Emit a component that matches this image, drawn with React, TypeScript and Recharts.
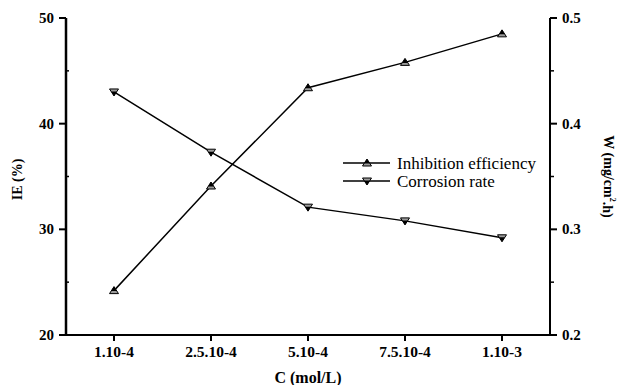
import React from "react"
import { Label, Legend, Line, LineChart, XAxis, YAxis } from "recharts"

const concentrations = ["1.10-4", "2.5.10-4", "5.10-4", "7.5.10-4", "1.10-3"]
const inhibitionEfficiency = [24.2, 34.1, 43.4, 45.8, 48.5]
const corrosionRate = [0.43, 0.373, 0.321, 0.308, 0.292]
const ieTicks = [20, 25, 30, 35, 40, 45, 50]
const wTicks = [0.2, 0.25, 0.3, 0.35, 0.4, 0.45, 0.5]

const data = concentrations.map((c, i) => ({
  c,
  ie: inhibitionEfficiency[i],
  w: corrosionRate[i],
}))

const FONT = "Liberation Serif, Times New Roman, Times, DejaVu Serif, serif"

const UpTri = ({ cx, cy }: { cx: number; cy: number }) => (
  <g>
    <polygon points={`${cx},${cy - 4} ${cx - 4.5},${cy + 3} ${cx + 4.5},${cy + 3}`} fill="#9a9a9a" stroke="#000" strokeWidth={1} />
    <polygon points={`${cx},${cy - 4} ${cx - 2.8},${cy + 0.5} ${cx + 2.8},${cy + 0.5}`} fill="#000" />
  </g>
)

const DownTri = ({ cx, cy }: { cx: number; cy: number }) => (
  <g>
    <polygon points={`${cx},${cy + 4} ${cx - 4.5},${cy - 3} ${cx + 4.5},${cy - 3}`} fill="#9a9a9a" stroke="#000" strokeWidth={1} />
    <polygon points={`${cx},${cy + 4} ${cx - 2.8},${cy - 0.5} ${cx + 2.8},${cy - 0.5}`} fill="#000" />
  </g>
)

const LeftTick = (props: any) => {
  const { x, y, payload, index } = props
  const axisX = x + 5 + 7
  const major = index % 2 === 0
  return (
    <g>
      {major ? (
        <line x1={axisX - 7} x2={axisX} y1={y} y2={y} stroke="#000" strokeWidth={2} />
      ) : (
        <line x1={axisX} x2={axisX + 3} y1={y} y2={y} stroke="#000" strokeWidth={1.5} />
      )}
      {major && (
        <text x={x} y={y} textAnchor="end" dominantBaseline="central" fontSize={15} fontWeight="bold" fontFamily={FONT} fill="#000">
          {payload.value}
        </text>
      )}
    </g>
  )
}

const RightTick = (props: any) => {
  const { x, y, payload, index } = props
  const axisX = x - 5 - 7
  const major = index % 2 === 0
  return (
    <g>
      <line x1={axisX} x2={axisX + (major ? 7 : 4)} y1={y} y2={y} stroke="#000" strokeWidth={major ? 2 : 1.5} />
      {major && (
        <text x={x} y={y} textAnchor="start" dominantBaseline="central" fontSize={15} fontWeight="bold" fontFamily={FONT} fill="#000">
          {payload.value.toFixed(1)}
        </text>
      )}
    </g>
  )
}

const LegendBox = () => (
  <div style={{ fontFamily: FONT, fontSize: 17, color: "#000", lineHeight: "18px" }}>
    {[
      { name: "Inhibition efficiency", up: true },
      { name: "Corrosion rate", up: false },
    ].map((r) => (
      <div key={r.name} style={{ display: "flex", alignItems: "center", height: 18 }}>
        <svg width={48} height={18}>
          <line x1={0} x2={47} y1={9} y2={9} stroke="#000" strokeWidth={1.5} />
          {r.up ? <UpTri cx={24} cy={9} /> : <DownTri cx={24} cy={9} />}
        </svg>
        <span style={{ marginLeft: 6, lineHeight: "17px", height: 17, overflow: "visible" }}>{r.name}</span>
      </div>
    ))}
  </div>
)

export default function App() {
  return (
    <div style={{ position: "absolute", left: 0, top: 0, width: 618, height: 385, background: "#fff", fontFamily: FONT }}>
      <LineChart width={618} height={385} data={data} margin={{ top: 18, right: 0, bottom: 0, left: 0 }} style={{ fontFamily: FONT }}>
        <XAxis
          dataKey="c"
          height={50}
          padding={{ left: 48, right: 48 }}
          axisLine={{ stroke: "#000", strokeWidth: 2 }}
          tickLine={{ stroke: "#000", strokeWidth: 2 }}
          tickSize={6}
          tickMargin={5}
          tick={{ fontSize: 15.5, fontWeight: "bold", fill: "#000", fontFamily: FONT }}
        >
          <Label value="C (mol/L)" position="insideBottom" offset={2} style={{ fontSize: 16, fontWeight: "bold", fill: "#000", fontFamily: FONT }} />
        </XAxis>
        <XAxis
          xAxisId="top"
          dataKey="c"
          orientation="top"
          height={0}
          mirror
          padding={{ left: 48, right: 48 }}
          axisLine={{ stroke: "#000", strokeWidth: 1.3 }}
          tickLine={{ stroke: "#000", strokeWidth: 1.5 }}
          tickSize={6}
          tick={false}
        />
        <YAxis
          yAxisId="left"
          width={66}
          domain={[20, 50]}
          ticks={ieTicks}
          interval={0}
          axisLine={{ stroke: "#000", strokeWidth: 2.5 }}
          tickLine={false}
          tickSize={7}
          tickMargin={5}
          tick={LeftTick}
        >
          <Label
            content={(p: any) => {
              const vb = p.viewBox
              const cx = vb.x + 17
              const cy = vb.y + vb.height / 2 + 3
              return (
                <text x={cx} y={cy} transform={`rotate(-90 ${cx} ${cy})`} textAnchor="middle" dominantBaseline="central" fontSize={14} fontWeight="bold" fontFamily={FONT} fill="#000">
                  IE (%)
                </text>
              )
            }}
          />
        </YAxis>
        <YAxis
          yAxisId="right"
          orientation="right"
          width={68}
          domain={[0.2, 0.5]}
          ticks={wTicks}
          interval={0}
          axisLine={{ stroke: "#000", strokeWidth: 2 }}
          tickLine={false}
          tickSize={7}
          tickMargin={5}
          tick={RightTick}
        >
          <Label
            content={(p: any) => {
              const vb = p.viewBox
              const cx = vb.x + 58
              const cy = vb.y + vb.height / 2
              return (
                <text x={cx} y={cy} transform={`rotate(90 ${cx} ${cy})`} textAnchor="middle" dominantBaseline="central" fontSize={14} fontWeight="bold" fontFamily={FONT} fill="#000">
                  W (mg/cm<tspan fontSize={8} dy={-5}>2</tspan>
                  <tspan dy={5}>.h)</tspan>
                </text>
              )
            }}
          />
        </YAxis>
        <Legend
          layout="vertical"
          align="center"
          verticalAlign="middle"
          content={LegendBox}
          wrapperStyle={{ left: 343, top: 154, width: 240 }}
        />
        <Line
          yAxisId="left"
          dataKey="ie"
          name="Inhibition efficiency"
          stroke="#000"
          strokeWidth={1.5}
          isAnimationActive={false}
          dot={(p: any) => <UpTri key={`u${p.index}`} cx={p.cx} cy={p.cy} />}
          activeDot={false}
        />
        <Line
          yAxisId="right"
          dataKey="w"
          name="Corrosion rate"
          stroke="#000"
          strokeWidth={1.5}
          isAnimationActive={false}
          dot={(p: any) => <DownTri key={`d${p.index}`} cx={p.cx} cy={p.cy} />}
          activeDot={false}
        />
      </LineChart>
    </div>
  )
}
